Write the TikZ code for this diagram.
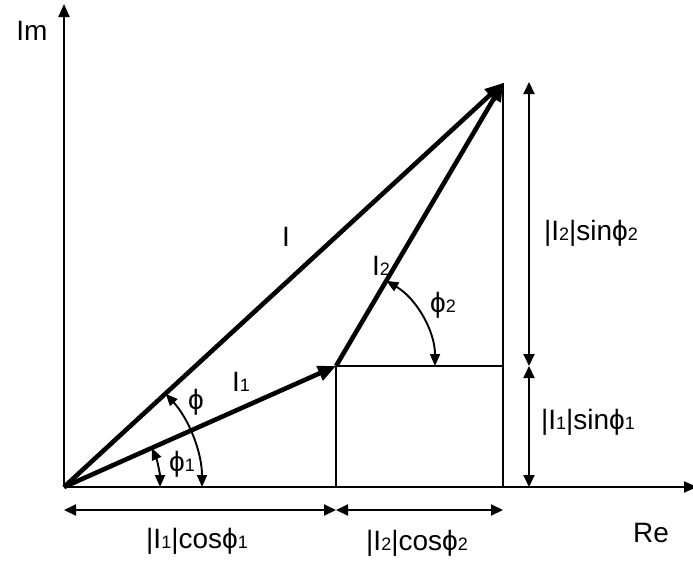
\documentclass[tikz,border=0pt]{standalone}
\usepackage{fontspec}
\setmainfont{Liberation Sans}
\usetikzlibrary{arrows.meta}
\newcommand{\sbs}[1]{{\fontsize{18}{18}\selectfont #1}}
\begin{document}
\begin{tikzpicture}[x=1pt,y=-1pt,
  thin/.style={line width=2.1pt},
  vec/.style={line width=4.6pt,-{Triangle[length=18pt,width=15pt]}},
  ax/.style={line width=2.1pt,-{Triangle[length=13pt,width=11pt]}},
  dim/.style={line width=2.1pt,{Triangle[length=12pt,width=11pt]}-{Triangle[length=12pt,width=11pt]}},
  ang/.style={line width=1.9pt,{Triangle[length=12pt,width=10pt]}-{Triangle[length=12pt,width=10pt]}},
  lbl/.style={font=\fontsize{28}{32}\selectfont, inner sep=0pt}]
\useasboundingbox (0,0) rectangle (693,562);
% points
\coordinate (O) at (64,487);
\coordinate (P1) at (336,366);
\coordinate (P) at (503,83);
\coordinate (ImEnd) at (64,4);
\coordinate (ReEnd) at (697,487);
\coordinate (P1b) at (336,487);
\coordinate (Pm) at (503,366);
\coordinate (Pb) at (503,487);
\coordinate (RT) at (529,82);
\coordinate (RM) at (529,366);
\coordinate (RB) at (529,487);
\coordinate (BL) at (64,510);
\coordinate (BM) at (336,510);
\coordinate (BR) at (503,510);
% axes
\draw[ax] (O) -- (ImEnd);
\draw[ax] (O) -- (ReEnd);
% construction lines
\draw[thin] (P1) -- (P1b);
\draw[thin] (P1) -- (Pm);
\draw[thin] (P) -- (Pb);
% dimension arrows
\draw[dim] (RT) -- (RM);
\draw[dim] (RM) -- (RB);
\draw[dim] (BL) -- (BM);
\draw[dim] (BM) -- (BR);
% vectors
\draw[vec] (O) -- (P1);
\draw[vec] (P1) -- (P);
\draw[vec] (O) -- (P);
% angle arcs
\draw[ang] ([shift={(0:96)}]O) arc[start angle=0,end angle=-24,radius=96];
\draw[ang] ([shift={(0:138)}]O) arc[start angle=0,end angle=-42.5,radius=138];
\draw[ang] ([shift={(0:99)}]P1) arc[start angle=0,end angle=-59.4,radius=99];
% labels
\node[lbl] (im) at (32,31) {Im};
\node[lbl] (re) at (651,533) {Re};
\node[lbl] (lI) at (286,237) {I};
\node[lbl] (lI2) at (381,266) {I\sbs{2}};
\node[lbl] (lI1) at (241,382) {I\sbs{1}};
\node[lbl] (lphi) at (196,402) {ϕ};
\node[lbl] (lphi1) at (182,464) {ϕ\sbs{1}};
\node[lbl] (lphi2) at (443,305) {ϕ\sbs{2}};
\node[lbl] (ls2) at (591,233) {|I\sbs{2}|sinϕ\sbs{2}};
\node[lbl] (ls1) at (588,422) {|I\sbs{1}|sinϕ\sbs{1}};
\node[lbl] (lc1) at (197,541) {|I\sbs{1}|cosϕ\sbs{1}};
\node[lbl] (lc2) at (417,543) {|I\sbs{2}|cosϕ\sbs{2}};
\end{tikzpicture}
\end{document}
